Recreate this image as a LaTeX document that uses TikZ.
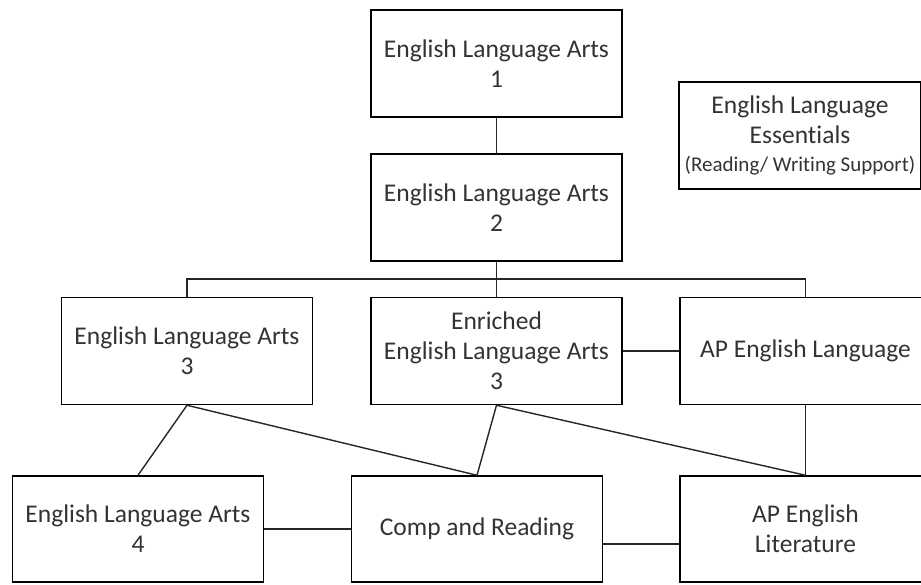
\documentclass[tikz,border=0pt]{standalone}
\usepackage{fontspec}
\setmainfont{Carlito}[Ligatures=NoCommon]
\begin{document}
\begin{tikzpicture}[x=1pt,y=-1pt,
    course/.style={draw, line width=1.5pt, align=center, text=black!80,
      minimum width=251pt, minimum height=107pt, inner sep=0pt,
      font=\fontsize{25.5}{30}\selectfont}]
      \clip (0,0) rectangle (921,584);
      \draw
        (496.5,63.5) node[course] (elaone){English Language Arts\\1}
        (496.5,207.5) node[course] (elatwo){English Language Arts\\2}
        (187,351) node[course] (elathree){English Language Arts\\3}
        (496.5,351) node[course] (enriched){Enriched\\English Language Arts\\3}
        (805.5,351) node[course] (aplang){AP English Language}
        (138,529) node[course, minimum height=106pt] (elafour){English Language Arts\\4}
        (477,529) node[course, minimum height=106pt] (comp){Comp and Reading}
        (805.5,529) node[course, minimum height=106pt] (aplit){AP English\\Literature}
        (800,135.5) node[course, minimum width=242pt] (essentials)
          {English Language\\Essentials\\[-2pt]{\fontsize{21}{26}\selectfont(Reading/ Writing Support)}};
      \coordinate (bus) at (496.5,279);
      \begin{scope}[-, line width=1.4pt, black!85]
        \draw (elaone) to (elatwo);
        \draw (elatwo) to (enriched);
        \draw (elathree.north) |- (bus) -| (aplang.north);
        \draw (enriched) to (aplang);
        \draw (elathree.south) to (elafour.north);
        \draw (elathree.south) to (comp.north);
        \draw (enriched.south) to (comp.north);
        \draw (enriched.south) to (aplit.north);
        \draw (aplang) to (aplit);
        \draw (elafour) to (comp);
        \draw[line width=2.2pt] ([yshift=-15pt]comp.east) to ([yshift=-15pt]aplit.west);
      \end{scope}
    \end{tikzpicture}
\end{document}
